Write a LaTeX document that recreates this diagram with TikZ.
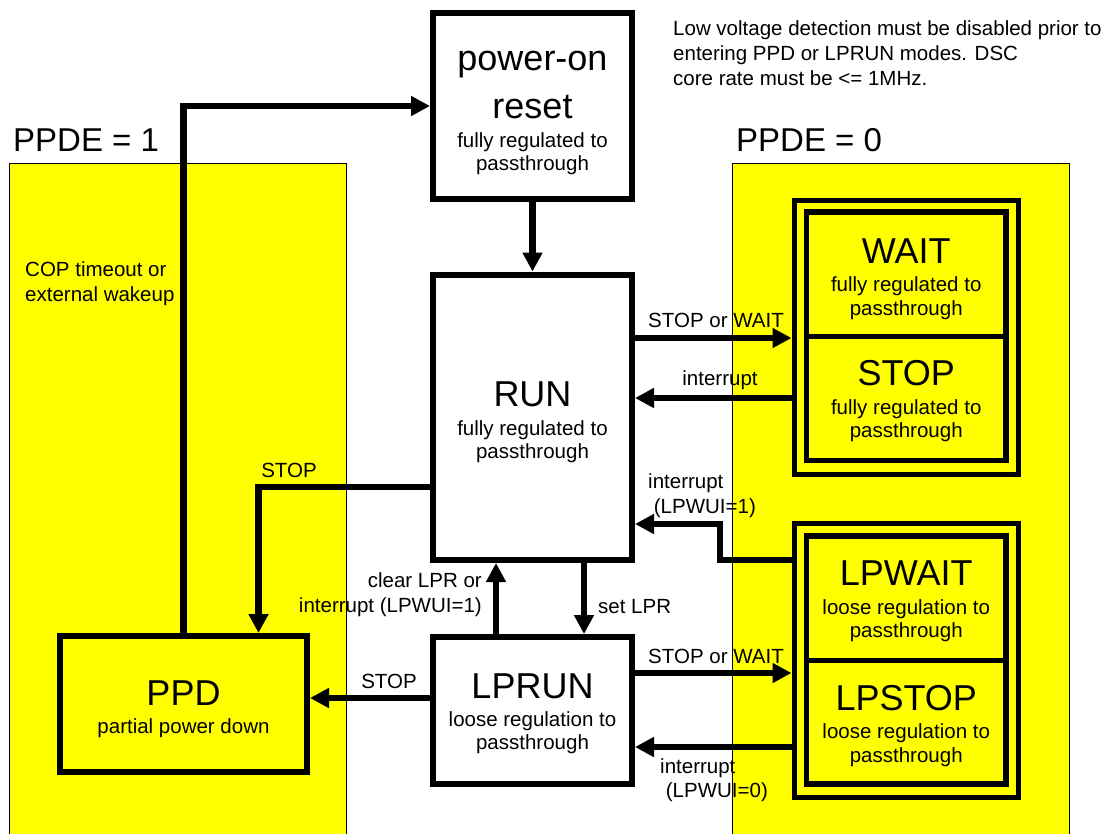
\documentclass[tikz,border=0pt]{standalone}
\usepackage{fontspec}
\setmainfont{Liberation Sans}
\usetikzlibrary{arrows.meta}

\definecolor{ppdyellow}{RGB}{255,255,0}
\newcommand{\modename}[1]{{\fontsize{36}{36}\selectfont #1}}

\tikzset{
  panel/.style={draw=black, line width=0.8pt, fill=ppdyellow},
  modebox/.style={draw=black, line width=6pt, inner sep=0pt},
  groupbox/.style={draw=black, line width=5pt, fill=ppdyellow, inner sep=0pt},
  modetext/.style={align=center, inner sep=0pt, font=\fontsize{20.5}{23.5}\selectfont},
  lbl/.style={inner sep=0pt, font=\fontsize{20.5}{24.5}\selectfont},
  flow/.style={line width=6.5pt, -{Triangle[length=19pt,width=19pt]}},
}

\begin{document}
\begin{tikzpicture}[x=1pt, y=-1pt]
\clip (0,0) rectangle (1106,833);
\fill[white] (0,0) rectangle (1106,833);

% the two PPDE regions
\draw[panel] (9.5,163) rectangle (346,845);
\draw[panel] (732,163) rectangle (1069,845);
\node[anchor=west, inner sep=0pt, font=\fontsize{33}{33}\selectfont] (ppde1) at (13,140.5) {PPDE = 1};
\node[anchor=west, inner sep=0pt, font=\fontsize{33}{33}\selectfont] (ppde0) at (736,140.5) {PPDE = 0};

% modes
\node[modebox, fill=white, minimum width=199pt, minimum height=186pt] (por) at (532.5,106) {};
\node[modebox, fill=white, minimum width=199pt, minimum height=285.5pt] (run) at (532.5,417.25) {};
\node[modebox, fill=white, minimum width=199pt, minimum height=147pt] (lprun) at (532.5,710.5) {};
\node[modebox, fill=ppdyellow, minimum width=247pt, minimum height=136pt] (ppd) at (183.5,704) {};

\node[groupbox, minimum width=224pt, minimum height=274pt] (waitgrp) at (906,337) {};
\node[groupbox, line width=5.5pt, minimum width=199.5pt, minimum height=124.7pt] (wait) at (906.25,274.35) {};
\node[groupbox, line width=5.5pt, minimum width=199.5pt, minimum height=123.8pt] (stop) at (906.25,398.6) {};
\node[groupbox, minimum width=224pt, minimum height=274pt] (lpgrp) at (906,660.5) {};
\node[groupbox, line width=5.5pt, minimum width=199.5pt, minimum height=124.7pt] (lpwait) at (906.25,598.35) {};
\node[groupbox, line width=5.5pt, minimum width=199.5pt, minimum height=123.3pt] (lpstop) at (906.25,722.35) {};

% mode texts
\node[modetext] (por-t) at (532.5,113) {\modename{power-on}\\[17pt]\modename{reset}\\[5pt]fully regulated to\\passthrough};
\node[modetext] (run-t) at (532.5,422.5) {\modename{RUN}\\[5pt]fully regulated to\\passthrough};
\node[modetext] (lprun-t) at (532.5,714) {\modename{LPRUN}\\[4pt]loose regulation to\\passthrough};
\node[modetext] (ppd-t) at (183.5,709) {\modename{PPD}\\[5pt]partial power down};
\node[modetext] (wait-t) at (906.25,279) {\modename{WAIT}\\[5pt]fully regulated to\\passthrough};
\node[modetext] (stop-t) at (906.25,401.5) {\modename{STOP}\\[5pt]fully regulated to\\passthrough};
\node[modetext] (lpwait-t) at (906.25,601.7) {\modename{LPWAIT}\\[5pt]loose regulation to\\passthrough};
\node[modetext] (lpstop-t) at (906.25,726) {\modename{LPSTOP}\\[5pt]loose regulation to\\passthrough};

% transitions
\draw[flow] (por.south) -- (run.north);
\draw[flow] (ppd.north) |- (por.west);
\draw[flow] (run.east |- 0,338) -- (waitgrp.west |- 0,338);
\draw[flow] (waitgrp.west |- 0,398) -- (run.east |- 0,398);
\draw[flow] (run.west |- 0,487) -| ([xshift=75pt]ppd.north);
\draw[flow] (lpgrp.west |- 0,560) -| (720,524) -- (run.east |- 0,524);
\draw[flow] (lprun.north -| 496,0) -- (run.south -| 496,0);
\draw[flow] (run.south -| 584,0) -- (lprun.north -| 584,0);
\draw[flow] (lprun.west |- 0,698) -- (ppd.east |- 0,698);
\draw[flow] (lprun.east |- 0,673) -- (lpgrp.west |- 0,673);
\draw[flow] (lpgrp.west |- 0,747) -- (lprun.east |- 0,747);

% transition labels
\node[lbl] (l-sw) at (716,320) {STOP or WAIT};
\node[lbl] (l-int) at (720,380) {interrupt};
\node[lbl] (l-stop) at (289,470) {STOP};
\node[lbl, align=left, anchor=west] (l-int1) at (648,495.5) {interrupt\\\hspace*{5.7pt}(LPWUI=1)};
\node[lbl, align=right, anchor=east] (l-clr) at (482,594.7) {clear LPR or\\interrupt (LPWUI=1)};
\node[lbl, anchor=west] (l-set) at (598,607) {set LPR};
\node[lbl] (l-lpstop) at (389,681.7) {STOP};
\node[lbl] (l-lpsw) at (716,656.7) {STOP or WAIT};
\node[lbl, align=left, anchor=west] (l-int0) at (660,780) {interrupt\\\hspace*{5.7pt}(LPWUI=0)};
\node[lbl, align=left, anchor=west] (l-cop) at (25,283.8) {COP timeout or\\external wakeup};

% note
\node[align=left, anchor=west, inner sep=0pt, font=\fontsize{20.5}{25}\selectfont] (note) at (673,52.8)
  {Low voltage detection must be disabled prior to\\entering PPD or LPRUN modes. DSC\\core rate must be <= 1MHz.};
\end{tikzpicture}
\end{document}
